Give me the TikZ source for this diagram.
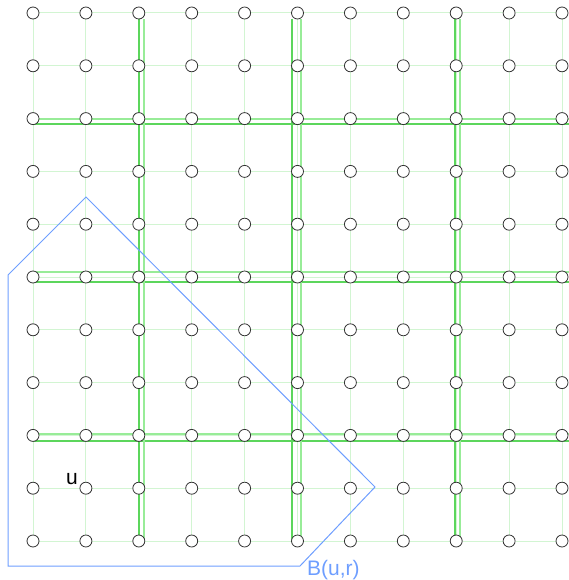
\documentclass[tikz,border=0pt]{standalone}
\usepackage{fontspec}
\setmainfont{Liberation Sans}
\definecolor{gridc}{HTML}{D2F5D2}
\definecolor{sepdark}{HTML}{5CD65C}
\definecolor{seplight}{HTML}{98EC98}
\definecolor{ballc}{HTML}{6E9EFF}
\definecolor{vtxc}{HTML}{333333}
\pgfdeclarelayer{bg}
\pgfdeclarelayer{mid}
\pgfsetlayers{bg,mid,main}
\tikzset{
  vtx/.style={circle, draw=vtxc, fill=white, line width=0.8pt, minimum size=12pt, inner sep=0pt},
  gridline/.style={draw=gridc, line width=1pt},
  sepd/.style={draw=sepdark, line width=1.2pt},
  sepl/.style={draw=seplight, line width=1.2pt},
  ball/.style={draw=ballc, line width=1pt, line join=miter},
  lbl/.style={inner sep=0pt, anchor=base west, font=\fontsize{21}{24}\selectfont}
}
\begin{document}
\begin{tikzpicture}[x=1pt,y=-1pt]
\useasboundingbox (0,0) rectangle (569,580);
% vertices
\foreach \i in {0,...,10}{
  \foreach \j in {0,...,10}{
    \node[vtx] (c-\i-\j) at ({33+52.9*\i},{13+52.8*\j}) {};
  }
}
% grid connectors
\begin{pgfonlayer}{bg}
\foreach \i in {0,...,9}{
  \pgfmathtruncatemacro{\ni}{\i+1}
  \foreach \j in {0,...,10}{
    \draw[gridline] (c-\i-\j) -- (c-\ni-\j);
    \draw[gridline] (c-\j-\i) -- (c-\j-\ni);
  }
}
\end{pgfonlayer}
% separator double lines
\begin{pgfonlayer}{mid}
\foreach \y in {119,272,434}{\draw[sepl] (33,\y) -- (569,\y);}
\foreach \y in {124,282,441}{\draw[sepd] (33,\y) -- (569,\y);}
\foreach \x in {144,301,460}{\draw[sepl] (\x,19) -- (\x,541);}
\foreach \x in {139,292,455}{\draw[sepd] (\x,19) -- (\x,541);}
\end{pgfonlayer}
% ball
\draw[ball] (86,197) -- (8,275) -- (8,566) -- (300,566) -- (375,487) -- cycle;
\node[lbl, text=black] (u) at (66,484) {u};
\node[lbl, text=ballc] (blabel) at (307,575) {B(u,r)};
\end{tikzpicture}
\end{document}
